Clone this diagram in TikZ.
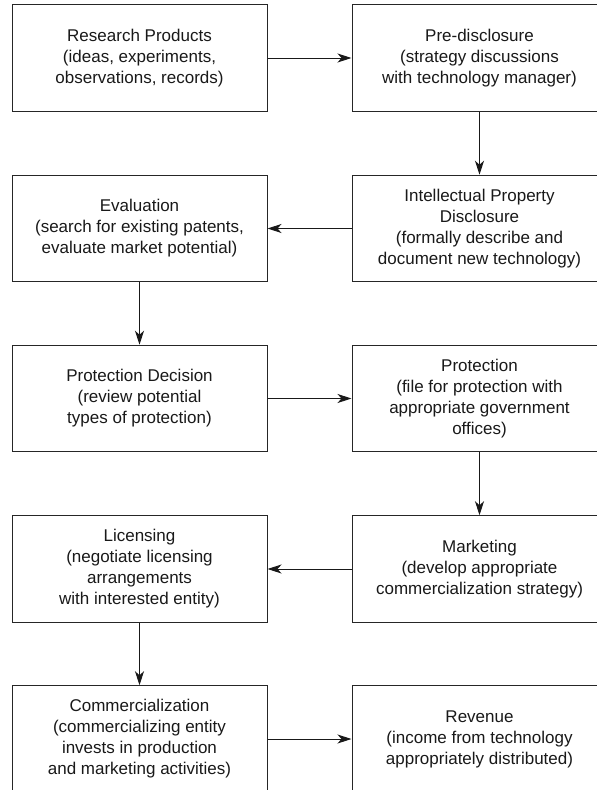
\documentclass[tikz,border=0pt]{standalone}
\usepackage{fontspec}
\setmainfont{Liberation Sans}
\usetikzlibrary{arrows.meta}
\begin{document}
\begin{tikzpicture}[x=1pt,y=-1pt,
  stepbox/.style={draw=black!85, line width=1pt, rectangle, minimum width=255pt, minimum height=106.5pt,
    inner sep=0pt, align=center, text=black!90, font=\fontsize{17}{21}\selectfont},
  arr/.style={draw=black!90, line width=1pt, -{Stealth[length=14pt,width=9pt,inset=4pt]}}]
\clip (0,0) rectangle (597,790);
\fill[white] (0,0) rectangle (597,790);
\node[stepbox] (rp)  at (139.5,58)  {Research Products\\(ideas, experiments,\\observations, records)};
\node[stepbox] (pd)  at (479.5,58)  {Pre-disclosure\\(strategy discussions\\with technology manager)};
\node[stepbox] (ipd) at (479.5,228.5) {Intellectual Property\\Disclosure\\(formally describe and\\document new technology)};
\node[stepbox] (ev)  at (139.5,228.5) {Evaluation\\(search for existing patents,\\evaluate market potential)};
\node[stepbox] (pdc) at (139.5,398.5) {Protection Decision\\(review potential\\types of protection)};
\node[stepbox] (pr)  at (479.5,398.5) {Protection\\(file for protection with\\appropriate government\\offices)};
\node[stepbox] (mk)  at (479.5,569) {Marketing\\(develop appropriate\\commercialization strategy)};
\node[stepbox] (lc)  at (139.5,569) {Licensing\\(negotiate licensing\\arrangements\\with interested entity)};
\node[stepbox] (cm)  at (139.5,739) {Commercialization\\(commercializing entity\\invests in production\\and marketing activities)};
\node[stepbox] (rv)  at (479.5,739) {Revenue\\(income from technology\\appropriately distributed)};
\draw[arr] (rp) -- (pd);
\draw[arr] (pd) -- (ipd);
\draw[arr] (ipd) -- (ev);
\draw[arr] (ev) -- (pdc);
\draw[arr] (pdc) -- (pr);
\draw[arr] (pr) -- (mk);
\draw[arr] (mk) -- (lc);
\draw[arr] (lc) -- (cm);
\draw[arr] (cm) -- (rv);
\end{tikzpicture}
\end{document}
